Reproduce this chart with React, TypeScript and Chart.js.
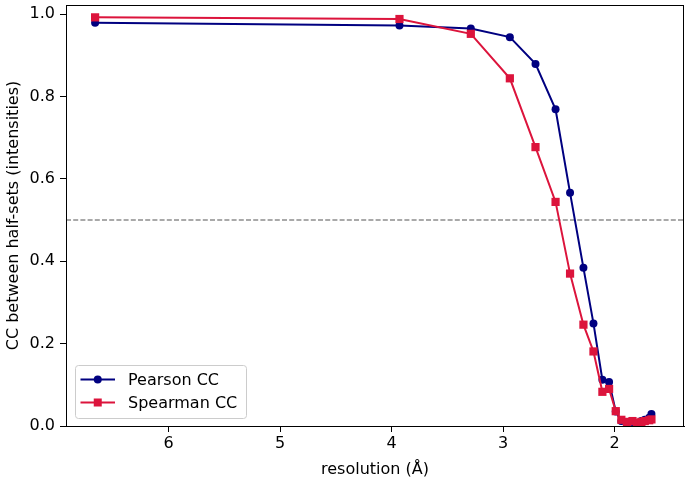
import React, { useEffect, useRef } from 'react';
import { Chart, registerables } from 'chart.js';

Chart.register(...registerables);

const resolution = [6.66, 3.93, 3.29, 2.94, 2.71, 2.53, 2.40, 2.28, 2.19, 2.11, 2.05, 1.99, 1.94, 1.89, 1.84, 1.80, 1.76, 1.73, 1.69, 1.67];
const pearsonCC = [0.979, 0.972, 0.965, 0.944, 0.879, 0.769, 0.566, 0.384, 0.249, 0.112, 0.107, 0.035, 0.012, 0.008, 0.010, 0.006, 0.012, 0.015, 0.020, 0.029];
const spearmanCC = [0.992, 0.988, 0.952, 0.844, 0.677, 0.544, 0.370, 0.246, 0.181, 0.083, 0.090, 0.036, 0.015, 0.010, 0.012, 0.008, 0.010, 0.012, 0.014, 0.016];
const xTickValues = [6, 5, 4, 3, 2];
const yTickValues = [0, 0.2, 0.4, 0.6, 0.8, 1.0];
const thresholdValue = 0.5;
const seriesLabels = ['Pearson CC', 'Spearman CC'];
const xTitle = 'resolution (Å)';
const yTitle = 'CC between half-sets (intensities)';

const NAVY = '#000080';
const CRIMSON = '#DC143C';
const FONT = '"DejaVu Sans", "Liberation Sans", sans-serif';
const FS = 16;

const decorPlugin = {
  id: 'decor',
  beforeDatasetsDraw(chart: any) {
    const { ctx, chartArea, scales } = chart;
    const y = scales.y.getPixelForValue(thresholdValue);
    ctx.save();
    ctx.beginPath();
    ctx.rect(chartArea.left, chartArea.top, chartArea.right - chartArea.left, chartArea.bottom - chartArea.top);
    ctx.clip();
    ctx.strokeStyle = '#555555';
    ctx.lineWidth = 1.1;
    ctx.setLineDash([5, 2.2]);
    ctx.beginPath();
    ctx.moveTo(chartArea.left, y);
    ctx.lineTo(chartArea.right, y);
    ctx.stroke();
    ctx.restore();
  },
  afterDraw(chart: any) {
    const { ctx, chartArea } = chart;
    ctx.save();
    // frame
    ctx.strokeStyle = '#000';
    ctx.lineWidth = 1;
    ctx.strokeRect(Math.round(chartArea.left) + 0.5, Math.round(chartArea.top) + 0.5,
      Math.round(chartArea.right - chartArea.left) - 1, Math.round(chartArea.bottom - chartArea.top));
    // legend
    const bx = chartArea.left + 9;
    const bw = 171;
    const bh = 53;
    const by = chartArea.bottom - 8 - bh;
    ctx.beginPath();
    (ctx as any).roundRect(bx + 0.5, by + 0.5, bw, bh, 3);
    ctx.fillStyle = 'rgba(255,255,255,0.8)';
    ctx.fill();
    ctx.strokeStyle = '#cccccc';
    ctx.lineWidth = 1;
    ctx.stroke();
    const colors = [NAVY, CRIMSON];
    seriesLabels.forEach((label, i) => {
      const cy = by + 14.5 + i * 23;
      const x0 = bx + 5.5;
      const x1 = bx + 40;
      ctx.strokeStyle = colors[i];
      ctx.lineWidth = 2;
      ctx.setLineDash([]);
      ctx.beginPath();
      ctx.moveTo(x0, cy);
      ctx.lineTo(x1, cy);
      ctx.stroke();
      ctx.fillStyle = colors[i];
      const mx = (x0 + x1) / 2;
      if (i === 0) {
        ctx.beginPath();
        ctx.arc(mx, cy, 4, 0, Math.PI * 2);
        ctx.fill();
      } else {
        ctx.fillRect(mx - 4, cy - 4, 8, 8);
      }
      ctx.fillStyle = '#000';
      ctx.font = `${FS}px ${FONT}`;
      ctx.textBaseline = 'middle';
      ctx.textAlign = 'left';
      ctx.fillText(label, bx + 53, cy + 1);
    });
    ctx.restore();
  },
};

export default function App() {
  const canvasRef = useRef<HTMLCanvasElement>(null);

  useEffect(() => {
    document.body.style.margin = '0';
    const canvas = canvasRef.current;
    if (!canvas) return;
    const chart = new Chart(canvas, {
      type: 'line',
      data: {
        datasets: [
          {
            label: seriesLabels[0],
            data: resolution.map((r, i) => ({ x: r, y: pearsonCC[i] })),
            borderColor: NAVY,
            backgroundColor: NAVY,
            borderWidth: 2,
            pointStyle: 'circle',
            pointRadius: 4,
            pointBorderWidth: 0,
            pointHoverRadius: 4,
            order: 1,
          },
          {
            label: seriesLabels[1],
            data: resolution.map((r, i) => ({ x: r, y: spearmanCC[i] })),
            borderColor: CRIMSON,
            backgroundColor: CRIMSON,
            borderWidth: 2,
            pointStyle: 'rect',
            pointRadius: 5.8,
            pointBorderWidth: 0,
            pointHoverRadius: 5.8,
            order: 0,
          },
        ],
      },
      options: {
        responsive: false,
        animation: false,
        devicePixelRatio: 1,
        layout: { padding: { top: 5, right: 6, left: 0, bottom: 0 }, autoPadding: false },
        plugins: {
          legend: { display: false },
          tooltip: { enabled: false },
        },
        scales: {
          x: {
            type: 'linear',
            reverse: true,
            min: 1.378,
            max: 6.921,
            afterBuildTicks: (scale: any) => {
              scale.ticks = xTickValues.map((v) => ({ value: v }));
            },
            afterFit: (scale: any) => {
              scale.height = 64;
              scale.paddingLeft = 0;
              scale.paddingRight = 0;
            },
            ticks: {
              color: '#000',
              font: { family: FONT, size: FS },
              padding: 2.5,
              maxRotation: 0,
              callback: (v: any) => String(v),
            },
            grid: {
              display: true,
              drawOnChartArea: false,
              drawTicks: true,
              tickLength: 6,
              tickColor: '#000',
              tickWidth: 1,
            },
            border: { display: true, color: '#000', width: 1 },
            title: {
              display: true,
              text: xTitle,
              color: '#000',
              font: { family: FONT, size: FS },
              padding: { top: 0, bottom: 11 },
            },
          },
          y: {
            type: 'linear',
            min: 0,
            max: 1.022,
            afterBuildTicks: (scale: any) => {
              scale.ticks = yTickValues.map((v) => ({ value: v }));
            },
            afterFit: (scale: any) => {
              scale.width = 66;
              scale.paddingTop = 0;
              scale.paddingBottom = 0;
            },
            ticks: {
              color: '#000',
              font: { family: FONT, size: FS },
              padding: 5,
              callback: (v: any) => Number(v).toFixed(1),
            },
            grid: {
              display: true,
              drawOnChartArea: false,
              drawTicks: true,
              tickLength: 6,
              tickColor: '#000',
              tickWidth: 1,
            },
            border: { display: true, color: '#000', width: 1 },
            title: {
              display: true,
              text: yTitle,
              color: '#000',
              font: { family: FONT, size: FS },
              padding: { top: 4, bottom: 0 },
            },
          },
        },
      },
      plugins: [decorPlugin],
    });
    return () => chart.destroy();
  }, []);

  return <canvas ref={canvasRef} width={690} height={490} style={{ display: 'block' }} />;
}
